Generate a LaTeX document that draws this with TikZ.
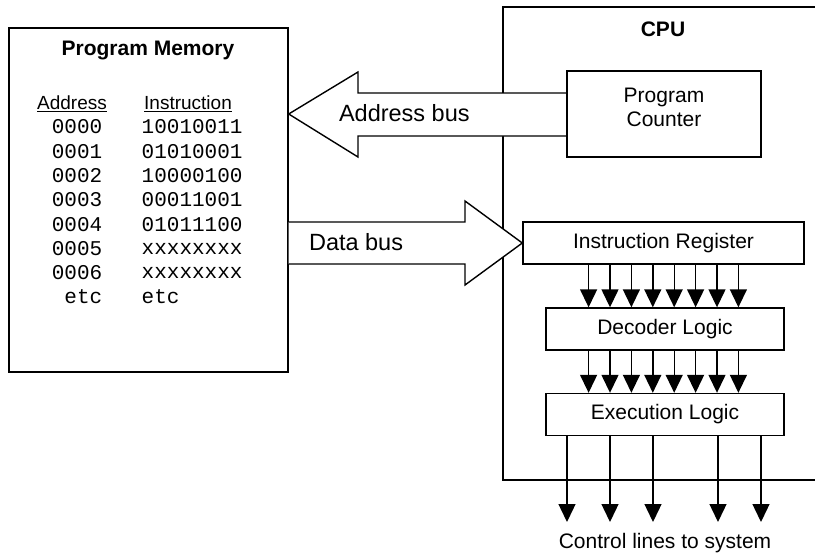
\documentclass[tikz,border=0pt]{standalone}
\usepackage{fontspec}
\setmainfont{Liberation Sans}
\setmonofont{Liberation Mono}
\usetikzlibrary{arrows.meta, positioning}

\begin{document}
\begin{tikzpicture}[x=1pt,y=-1pt,line width=1.4pt,
    txt/.style={font=\fontsize{21}{24}\selectfont},
    boldtxt/.style={font=\bfseries\fontsize{21}{24}\selectfont},
    bustxt/.style={font=\fontsize{23.5}{27}\selectfont},
    headtxt/.style={font=\fontsize{19}{22}\selectfont},
    mono/.style={font=\ttfamily\fontsize{21}{24}\selectfont, inner sep=0pt},
    block/.style={draw, fill=white, txt, inner sep=0pt, text centered},
    bit/.style={-{Triangle[width=17pt,length=18pt]}}
]
\useasboundingbox (0,0) rectangle (815,555);

% CPU outline, open to the right
\coordinate (cpuNE) at (815,7);
\coordinate (cpuSW) at (503,480);
\draw (cpuNE) -| (cpuSW) -- (cpuSW -| cpuNE);
\node[boldtxt] (cputitle) at (663,29) {CPU};

% program memory
\node[draw,
    minimum width=279pt,
    minimum height=344pt
] (mem) at (148.5,200) {};
\node[boldtxt] (memtitle) at (148,50) {Program Memory};
\node[headtxt] (addrhead) at (72,104) {\underline{Address}};
\node[headtxt] (instrhead) at (188,104) {\underline{Instruction}};
\foreach \a/\b [count=\i from 0] in {0000/10010011,0001/01010001,0002/10000100,0003/00011001,0004/01011100,0005/xxxxxxxx,0006/xxxxxxxx,etc/etc} {
  \node[mono, anchor=east] (addr\i) at (103,{127+24.3*\i}) {\a};
  \node[mono, anchor=west] (instr\i) at (141,{127+24.3*\i}) {\b};
}

% CPU blocks
\node[block,
    minimum width=194pt,
    minimum height=86pt
] (pc) at (664,114) {};
\node[txt, align=center] (pclabel) at ([yshift=7pt]pc.center) {Program\\Counter};
\node[block,
    minimum width=281pt,
    minimum height=42pt
] (ir) at (663.5,243) {Instruction Register};
\node[block,
    minimum width=238pt,
    minimum height=42pt
] (dec) at (665,329) {Decoder Logic};
\node[block,
    minimum width=238pt,
    minimum height=42pt
] (exec) at (665,414.5) {Execution Logic};

% buses
\draw[fill=white] (pc.west |- 0,93) -- (358,93) -- (358,72) -- (mem.east |- 0,114)
    -- (358,157) -- (358,136) -- (pc.west |- 0,136);
\node[bustxt, anchor=west] (addrbus) at (335,113) {Address bus};
\draw[fill=white] (mem.east |- 0,222) -- (465,222) -- (465,201) -- (ir.west)
    -- (465,285) -- (465,264) -- (mem.east |- 0,264);
\node[bustxt, anchor=west] (databus) at (305,242) {Data bus};
\draw (pc.north west) rectangle (pc.south east);

% internal lines
\foreach \i in {0,...,7} {
  \draw[bit] ([xshift={(\i-3.5)*21.4pt}]ir.south) -- ([xshift={(\i-3.5)*21.4pt}]ir.south |- dec.north);
  \draw[bit] ([xshift={(\i-3.5)*21.4pt}]ir.south |- dec.south) -- ([xshift={(\i-3.5)*21.4pt}]ir.south |- exec.north);
}

% control lines
\coordinate (ctl) at (665,522);
\foreach \x in {567,610,653,718,761}
  \draw[bit] (\x,0 |- exec.south) -- (\x,0 |- ctl);
\node[txt] (ctltext) at (665,543) {Control lines to system};

\end{tikzpicture}
\end{document}
